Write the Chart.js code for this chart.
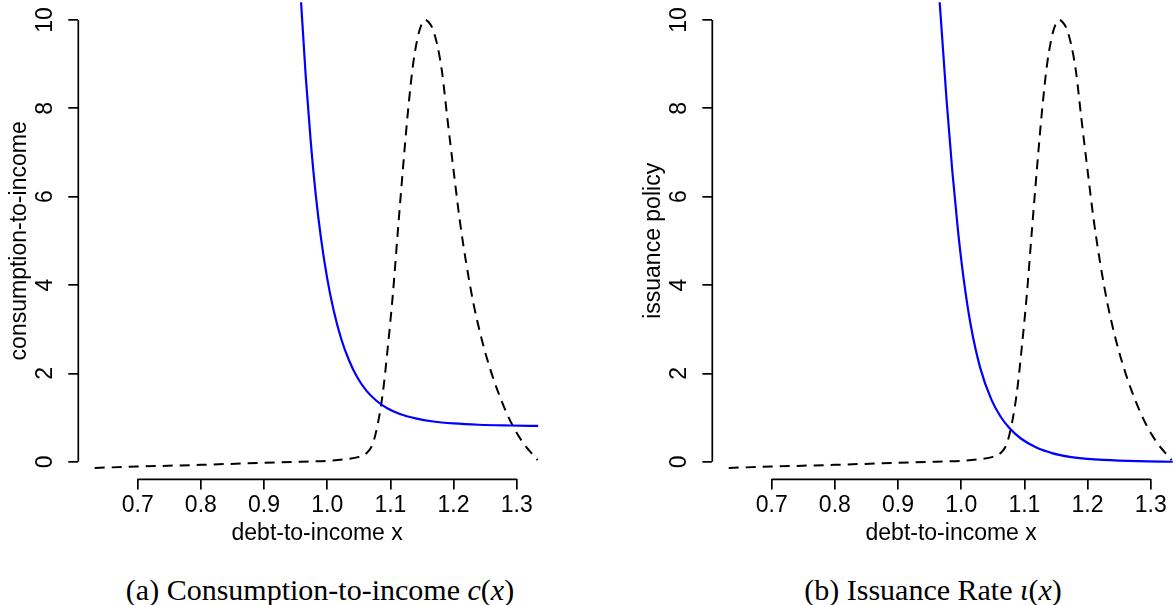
<!DOCTYPE html>
<html>
<head>
<meta charset="utf-8">
<script src="https://cdn.jsdelivr.net/npm/chart.js@4.4.1/dist/chart.umd.min.js"></script>
<style>
  body { margin: 0; background: #fff; width: 1173px; height: 605px; overflow: hidden; position: relative; }
  .panel { position: absolute; top: 0; width: 600px; height: 560px; }
  .caption { position: absolute; top: 575px; width: 600px; text-align: center; white-space: nowrap;
             font-family: "Liberation Serif", "DejaVu Serif", serif; font-size: 30px; line-height: 30px; color: #000; }
</style>
</head>
<body>
<div class="panel" style="left:0"><canvas id="chart-a"></canvas></div>
<div class="panel" style="left:634px"><canvas id="chart-b"></canvas></div>
<div class="caption" style="left:20px">(a) Consumption-to-income <i>c</i>(<i>x</i>)</div>
<div class="caption" style="left:633px">(b) Issuance Rate <i>ι</i>(<i>x</i>)</div>
<script>
// tick labels
const xTicks = [0.7, 0.8, 0.9, 1.0, 1.1, 1.2, 1.3];
const yTicks = [0, 2, 4, 6, 8, 10];

// stationary density (dashed, same in both panels)
const densityX = [0.632, 0.70, 0.80, 0.90, 0.96, 1.00, 1.03, 1.05, 1.062, 1.072, 1.080, 1.088, 1.096, 1.104,
  1.112, 1.120, 1.128, 1.136, 1.144, 1.150, 1.155, 1.160, 1.166, 1.174, 1.182, 1.190, 1.200, 1.210, 1.220,
  1.232, 1.245, 1.258, 1.270, 1.282, 1.295, 1.310, 1.320, 1.333];
const densityY = [-0.14, -0.11, -0.07, -0.025, 0.0, 0.02, 0.06, 0.11, 0.19, 0.40, 0.85, 1.55, 2.6, 3.8,
  5.25, 6.65, 7.95, 9.0, 9.65, 9.92, 10.0, 9.96, 9.83, 9.45, 8.8, 7.8, 6.6, 5.45, 4.5,
  3.55, 2.75, 2.1, 1.6, 1.17, 0.78, 0.43, 0.25, 0.04];

// consumption-to-income c(x)
const consX = [0.955, 0.9587, 0.966, 0.974, 0.982, 0.990, 1.000, 1.010, 1.022, 1.035, 1.048, 1.062, 1.078,
  1.095, 1.115, 1.140, 1.168, 1.200, 1.240, 1.290, 1.334];
const consY = [11.3, 10.39, 8.73, 7.24, 6.03, 5.08, 4.15, 3.44, 2.79, 2.28, 1.90, 1.61, 1.38,
  1.21, 1.08, 0.98, 0.91, 0.867, 0.837, 0.82, 0.81];

// issuance policy iota(x)
const issX = [0.962, 0.966, 0.977, 0.986, 0.995, 1.004, 1.015, 1.030, 1.048, 1.062, 1.077, 1.095, 1.119,
  1.145, 1.172, 1.200, 1.225, 1.280, 1.335];
const issY = [11.3, 10.39, 8.16, 6.57, 5.22, 4.13, 3.10, 2.13, 1.40, 1.03, 0.75, 0.52, 0.32,
  0.19, 0.11, 0.064, 0.04, 0.012, 0.0];

Chart.defaults.font.family = '"Liberation Sans", Arial, sans-serif';
Chart.defaults.font.size = 23;
Chart.defaults.color = '#000';

const toPoints = (xs, ys) => xs.map((x, i) => ({ x: x, y: ys[i] }));

// R style axis line, only from first to last tick
const axisLines = {
  id: 'axisLines',
  afterDraw(chart) {
    const { ctx, chartArea, scales: { x, y } } = chart;
    ctx.save();
    ctx.strokeStyle = '#000';
    ctx.lineWidth = 1.7;
    ctx.beginPath();
    ctx.moveTo(x.getPixelForValue(xTicks[0]), chartArea.bottom);
    ctx.lineTo(x.getPixelForValue(xTicks[xTicks.length - 1]), chartArea.bottom);
    ctx.moveTo(chartArea.left, y.getPixelForValue(yTicks[0]));
    ctx.lineTo(chartArea.left, y.getPixelForValue(yTicks[yTicks.length - 1]));
    ctx.stroke();
    ctx.restore();
  }
};

function makePanel(id, curveX, curveY, yTitle) {
  return new Chart(document.getElementById(id), {
    type: 'line',
    data: {
      datasets: [{
        data: toPoints(curveX, curveY),
        borderColor: '#0000ff',
        borderWidth: 2.2,
        pointRadius: 0,
        cubicInterpolationMode: 'monotone'
      }, {
        data: toPoints(densityX, densityY),
        borderColor: '#000',
        borderWidth: 2,
        borderDash: [10, 7],
        pointRadius: 0,
        cubicInterpolationMode: 'monotone'
      }]
    },
    options: {
      responsive: true,
      maintainAspectRatio: false,
      animation: false,
      layout: { padding: { top: 2.3, right: 44, bottom: 0, left: 0 } },
      plugins: { legend: { display: false }, tooltip: { enabled: false } },
      scales: {
        x: {
          type: 'linear',
          min: 0.606,
          max: 1.3622,
          afterBuildTicks: s => { s.ticks = xTicks.map(v => ({ value: v })); },
          afterFit: s => { s.height = 80.6; s.paddingLeft = 0; s.paddingRight = 0; },
          border: { display: false },
          grid: { drawOnChartArea: false, tickLength: 10, color: '#000', lineWidth: 1.7 },
          ticks: { padding: 2, maxRotation: 0, autoSkip: false, callback: v => v.toFixed(1) },
          title: { display: true, text: 'debt-to-income x', padding: { top: 0, bottom: 13 } }
        },
        y: {
          type: 'linear',
          min: -0.4,
          max: 10.4,
          afterBuildTicks: s => { s.ticks = yTicks.map(v => ({ value: v })); },
          afterFit: s => { s.width = 78.3; s.paddingTop = 0; s.paddingBottom = 0; },
          border: { display: false },
          grid: { drawOnChartArea: false, tickLength: 10, color: '#000', lineWidth: 1.7 },
          ticks: { padding: 10, minRotation: 90, maxRotation: 90, crossAlign: 'center', autoSkip: false,
                   callback: v => String(v) },
          title: { display: true, text: yTitle, padding: { top: 6, bottom: 0 } }
        }
      }
    },
    plugins: [axisLines]
  });
}

makePanel('chart-a', consX, consY, 'consumption-to-income');
makePanel('chart-b', issX, issY, 'issuance policy');
</script>
</body>
</html>
